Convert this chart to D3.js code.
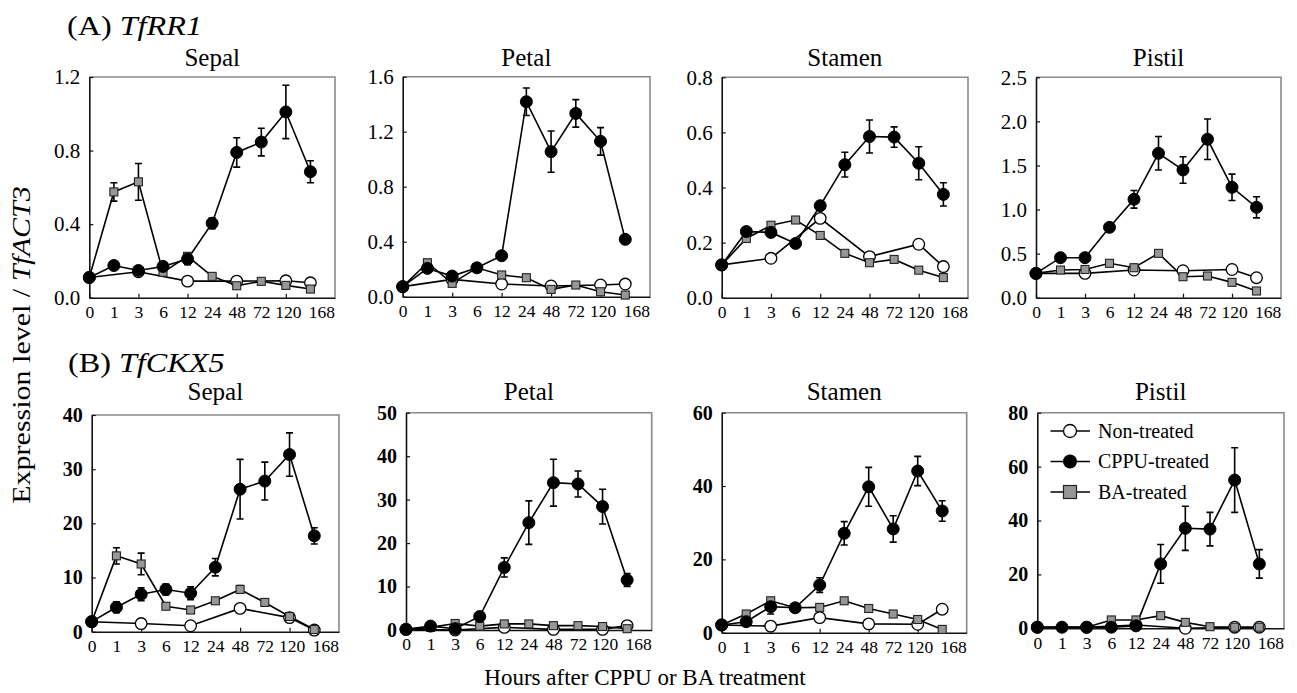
<!DOCTYPE html>
<html><head><meta charset="utf-8">
<script src="https://cdn.jsdelivr.net/npm/d3@7"></script>
<style>
body{margin:0;background:#fff}
svg{display:block}
text{font-family:"Times New Roman","Liberation Serif",serif;fill:#000}
</style>
</head><body>
<svg id="chart" width="1297" height="693"></svg>
<script>
// ---- categories / labels ----
const times = ["0","1","3","6","12","24","48","72","120","168"];
const organs = ["Sepal","Petal","Stamen","Pistil"];
const seriesNames = ["Non-treated","CPPU-treated","BA-treated"];
const geneA = "TfRR1", geneB = "TfCKX5";

// ---- (A) TfRR1 ----
const aSepalNon  = [0.11,null,0.141,null,0.09,null,0.09,null,0.092,0.081];
const aSepalCppu = [0.11,0.175,0.148,0.17,0.21,0.405,0.79,0.846,1.01,0.685];
const aSepalCppuErr = [0,0.02,0.02,0.02,0.03,0.03,0.08,0.075,0.145,0.06];
const aSepalBa   = [0.11,0.575,0.63,0.138,0.225,0.116,0.065,0.089,0.067,0.047];
const aSepalBaErr = [0,0.05,0.1,0,0,0,0,0,0,0];
const aSepalTicks = [0,0.4,0.8,1.2];

const aPetalNon  = [0.073,null,0.126,null,0.092,null,0.078,null,0.085,0.092];
const aPetalCppu = [0.073,0.206,0.15,0.21,0.298,1.418,1.055,1.333,1.13,0.417];
const aPetalCppuErr = [0,0.02,0.02,0.02,0.02,0.1,0.15,0.1,0.1,0.03];
const aPetalBa   = [0.073,0.247,0.097,0.21,0.158,0.138,0.053,0.085,0.036,0.012];
const aPetalBaErr = [0,0,0,0,0,0,0,0,0,0];
const aPetalTicks = [0,0.4,0.8,1.2,1.6];

const aStamenNon  = [0.119,null,0.143,null,0.288,null,0.149,null,0.194,0.113];
const aStamenCppu = [0.119,0.24,0.237,0.197,0.334,0.483,0.585,0.583,0.488,0.375];
const aStamenCppuErr = [0,0.01,0.01,0.01,0.01,0.045,0.06,0.037,0.06,0.042];
const aStamenBa   = [0.119,0.215,0.263,0.282,0.226,0.161,0.127,0.139,0.1,0.073];
const aStamenBaErr = [0,0,0,0,0,0,0,0,0,0];
const aStamenTicks = [0,0.2,0.4,0.6,0.8];

const aPistilNon  = [0.276,null,0.276,null,0.314,null,0.306,null,0.32,0.227];
const aPistilCppu = [0.276,0.454,0.454,0.798,1.116,1.638,1.449,1.797,1.252,1.025];
const aPistilCppuErr = [0,0.03,0.03,0.04,0.1,0.19,0.15,0.23,0.15,0.12];
const aPistilBa   = [0.276,0.314,0.32,0.39,0.34,0.503,0.238,0.246,0.174,0.076];
const aPistilBaErr = [0,0,0,0,0,0,0,0,0,0];
const aPistilTicks = [0,0.5,1.0,1.5,2.0,2.5];

// ---- (B) TfCKX5 ----
const bSepalNon  = [1.85,null,1.5,null,1.1,null,4.3,null,2.6,0.3];
const bSepalCppu = [1.85,4.5,6.9,7.8,7.1,11.9,26.3,27.8,32.7,17.7];
const bSepalCppuErr = [0,1,1.2,1,1.2,1.6,5.5,3.5,4,1.5];
const bSepalBa   = [1.85,14,12.5,4.7,4,5.7,7.8,5.4,2.8,0.4];
const bSepalBaErr = [0,1.5,2,0,0,0,0.7,0,0,0];
const bSepalTicks = [0,10,20,30,40];

const bPetalNon  = [0.15,null,0,null,0.6,null,0.15,null,0.15,1.0];
const bPetalCppu = [0.15,0.9,0.3,3.1,14.4,24.7,33.9,33.6,28.4,11.5];
const bPetalCppuErr = [0,0.5,0.5,0.8,2.2,5,5.4,3,4,1.5];
const bPetalBa   = [0.15,0.6,1.5,0.9,1.4,1.4,1.0,1.0,0.8,0.3];
const bPetalBaErr = [0,0,0,0,0,0,0,0,0,0];
const bPetalTicks = [0,10,20,30,40,50];

const bStamenNon  = [2.1,null,1.8,null,4.1,null,2.4,null,2.3,6.4];
const bStamenCppu = [2.1,3,7.1,6.8,13,27.1,39.8,28.3,44.1,33.2];
const bStamenCppuErr = [0,0.8,2,0.8,2,3.2,5.3,3.6,4,2.8];
const bStamenBa   = [2.1,5.1,8.7,6.8,6.9,8.7,6.6,5.1,3.6,0.9];
const bStamenBaErr = [0,0,0,0,0,0,0,0,0,0];
const bStamenTicks = [0,20,40,60];

const bPistilNon  = [0.4,null,0.4,null,1.2,null,0,null,0.4,0.4];
const bPistilCppu = [0.4,0.4,0.4,0.4,0.9,23.9,37.1,36.8,55,23.9];
const bPistilCppuErr = [0,0,0,0,0,7.2,8.2,6.2,12,5.3];
const bPistilBa   = [0.4,0.4,0.4,3.1,3.1,4.7,2.2,0.6,0.4,0.4];
const bPistilBaErr = [0,0,0,0,0,0,0,0,0,0];
const bPistilTicks = [0,20,40,60,80];

// ---- panel definitions (data refs + layout boxes) ----
const panels = [
  {row:0, organ:0, non:aSepalNon, cppu:aSepalCppu, cppuErr:aSepalCppuErr, ba:aSepalBa, baErr:aSepalBaErr, ticks:aSepalTicks, box:[89.3,335,77,297.7]},
  {row:0, organ:1, non:aPetalNon, cppu:aPetalCppu, cppuErr:aPetalCppuErr, ba:aPetalBa, baErr:aPetalBaErr, ticks:aPetalTicks, box:[402.7,650,76.7,296.7]},
  {row:0, organ:2, non:aStamenNon, cppu:aStamenCppu, cppuErr:aStamenCppuErr, ba:aStamenBa, baErr:aStamenBaErr, ticks:aStamenTicks, box:[721.7,968,77.3,297.7]},
  {row:0, organ:3, non:aPistilNon, cppu:aPistilCppu, cppuErr:aPistilCppuErr, ba:aPistilBa, baErr:aPistilBaErr, ticks:aPistilTicks, box:[1036,1281,77.3,297.7]},
  {row:1, organ:0, non:bSepalNon, cppu:bSepalCppu, cppuErr:bSepalCppuErr, ba:bSepalBa, baErr:bSepalBaErr, ticks:bSepalTicks, box:[91.7,339,415,631.7]},
  {row:1, organ:1, non:bPetalNon, cppu:bPetalCppu, cppuErr:bPetalCppuErr, ba:bPetalBa, baErr:bPetalBaErr, ticks:bPetalTicks, box:[406,651.7,412.7,630]},
  {row:1, organ:2, non:bStamenNon, cppu:bStamenCppu, cppuErr:bStamenCppuErr, ba:bStamenBa, baErr:bStamenBaErr, ticks:bStamenTicks, box:[721.7,966.7,412.7,632.7]},
  {row:1, organ:3, non:bPistilNon, cppu:bPistilCppu, cppuErr:bPistilCppuErr, ba:bPistilBa, baErr:bPistilBaErr, ticks:bPistilTicks, box:[1037.3,1284,412.7,628.3], legend:true}
];

const svg = d3.select("#chart");
const BA_FILL = "#979797";
const FRAME = "#8a8a8a";
const SERIF = '"Times New Roman","Liberation Serif",serif';

panels.forEach(p => {
  const [L,R,T,B] = p.box;
  const x = d3.scaleLinear().domain([0,10]).range([L,R]);
  const y = d3.scaleLinear().domain([0,d3.max(p.ticks)]).range([B,T]);
  const g = svg.append("g");

  // frame (top & right, gray)
  g.append("path").attr("d",`M${L},${T}H${R}V${B}`).attr("fill","none")
    .attr("stroke",FRAME).attr("stroke-width",1.6);

  // y axis
  const fmt = p.row===0 ? d3.format(".1f") : d3.format("d");
  const ya = g.append("g").attr("transform",`translate(${L},0)`)
    .call(d3.axisLeft(y).tickValues(p.ticks).tickFormat(fmt).tickSizeInner(-4).tickSizeOuter(0).tickPadding(9));
  ya.select(".domain").attr("stroke","#111").attr("stroke-width",1.6);
  ya.selectAll(".tick line").attr("stroke","#111").attr("stroke-width",1.2);
  ya.selectAll("text").style("font-family",SERIF)
    .style("font-size", p.row===0 ? "21px" : "20px")
    .style("font-weight", p.row===0 ? "normal" : "bold")
    .attr("fill","#000");

  // x axis ticks (every other category)
  const xa = g.append("g").attr("transform",`translate(0,${B})`)
    .call(d3.axisBottom(x).tickValues([0,2,4,6,8]).tickFormat("").tickSizeInner(-4).tickSizeOuter(0));
  xa.select(".domain").attr("stroke","#111").attr("stroke-width",1.6);
  xa.selectAll(".tick line").attr("stroke","#111").attr("stroke-width",1.2);
  // x tick labels
  const xl = g.append("g").attr("transform",`translate(0,${B})`)
    .call(d3.axisBottom(x).tickValues(d3.range(times.length)).tickFormat(i=>times[i]).tickSize(0).tickPadding(8));
  xl.select(".domain").remove();
  xl.selectAll("text").style("font-family",SERIF)
    .style("font-size","17.5px").attr("fill","#000")
    .attr("dx", d => d === times.length-1 ? 11 : (d === times.length-2 ? 2 : 0));

  // panel title
  g.append("text").attr("x",(L+R)/2).attr("y", p.row===0 ? 66 : 400)
    .attr("text-anchor","middle").style("font-size","25px").text(organs[p.organ]);

  const line = d3.line().x(d=>x(d.i)).y(d=>y(d.v));
  const toPts = arr => arr.map((v,i)=>({i,v})).filter(d=>d.v!==null);

  const nonPts = toPts(p.non), cppuPts = toPts(p.cppu), baPts = toPts(p.ba);

  // lines
  [nonPts, baPts, cppuPts].forEach(pts => {
    g.append("path").attr("d",line(pts)).attr("fill","none")
      .attr("stroke","#000").attr("stroke-width",1.6);
  });

  // error bars
  const errBars = (pts, errs) => {
    pts.forEach(d => {
      const e = errs[d.i];
      if (!e) return;
      const cx = x(d.i), y1 = y(d.v - e), y2 = y(d.v + e);
      g.append("path").attr("d",`M${cx},${y1}V${y2}M${cx-3.5},${y1}H${cx+3.5}M${cx-3.5},${y2}H${cx+3.5}`)
        .attr("stroke","#000").attr("stroke-width",1.6).attr("fill","none");
    });
  };
  errBars(baPts, p.baErr);
  errBars(cppuPts, p.cppuErr);

  // markers
  g.selectAll(null).data(nonPts).enter().append("circle")
    .attr("cx",d=>x(d.i)).attr("cy",d=>y(d.v)).attr("r",5.8)
    .attr("fill","#fff").attr("stroke","#000").attr("stroke-width",1.3);
  g.selectAll(null).data(baPts).enter().append("rect")
    .attr("x",d=>x(d.i)-4).attr("y",d=>y(d.v)-4).attr("width",8).attr("height",8)
    .attr("fill",BA_FILL).attr("stroke","#222").attr("stroke-width",1.1);
  g.selectAll(null).data(cppuPts).enter().append("circle")
    .attr("cx",d=>x(d.i)).attr("cy",d=>y(d.v)).attr("r",6)
    .attr("fill","#000").attr("stroke","#000").attr("stroke-width",1);

  // legend
  if (p.legend) {
    const lg = g.append("g");
    const ly = [431, 461.5, 492];
    seriesNames.forEach((name,k) => {
      const row = lg.append("g").attr("transform",`translate(0,${ly[k]})`);
      row.append("line").attr("x1",1050.5).attr("x2",1090).attr("y1",0).attr("y2",0)
        .attr("stroke","#000").attr("stroke-width",1.6);
      if (k===0) row.append("circle").attr("cx",1070).attr("cy",0).attr("r",6.5).attr("fill","#fff").attr("stroke","#000").attr("stroke-width",1.3);
      if (k===1) row.append("circle").attr("cx",1070).attr("cy",0).attr("r",7).attr("fill","#000");
      if (k===2) row.append("rect").attr("x",1063.5).attr("y",-6.5).attr("width",13).attr("height",13).attr("fill",BA_FILL).attr("stroke","#222").attr("stroke-width",1.2);
      row.append("text").attr("x",1098).attr("y",6.5).style("font-size","20px").text(name);
    });
  }
});

// gene headers (horizontally widened lettering as in the original)
const hA = svg.append("text").attr("transform","translate(67,35) scale(1.15,1)").style("font-size","28px");
hA.append("tspan").text("(A) ");
hA.append("tspan").style("font-style","italic").text(geneA);
const hB = svg.append("text").attr("transform","translate(68,372) scale(1.15,1)").style("font-size","28px");
hB.append("tspan").text("(B) ");
hB.append("tspan").style("font-style","italic").text(geneB);

// axis titles
const yt = svg.append("text").attr("transform","translate(30,345) rotate(-90) scale(1.2,1)")
  .attr("text-anchor","middle").style("font-size","25px");
yt.append("tspan").text("Expression level / ");
yt.append("tspan").style("font-style","italic").text("TfACT3");

svg.append("text").attr("x",645).attr("y",685).attr("text-anchor","middle")
  .style("font-size","23px").text("Hours after CPPU or BA treatment");
</script>
</body></html>
